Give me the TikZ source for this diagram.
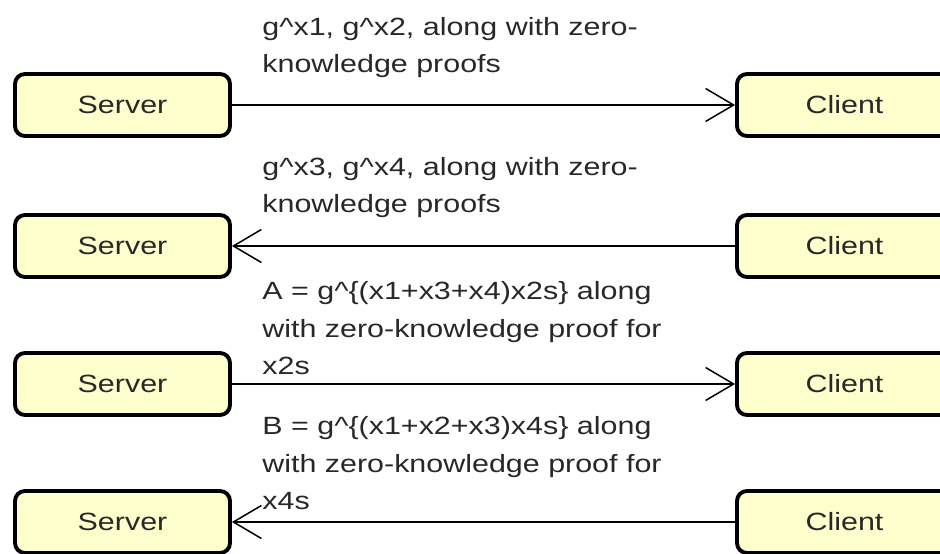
\documentclass[tikz,border=0pt]{standalone}
\usepackage{fontspec}
\setmainfont{Liberation Sans}[FakeStretch=1.22]
\usetikzlibrary{arrows.meta}
\definecolor{boxfill}{RGB}{255,255,206}
\definecolor{inkgray}{RGB}{40,40,40}
\tikzset{
  party/.style = {draw, line width=2.2pt, rounded corners=0.2cm, fill=boxfill,
    minimum width=4.3cm, minimum height=1.24cm, text=inkgray},
  msg/.style = {line width=0.85pt, -{Straight Barb[length=5.6mm,width=6.6mm,line width=0.85pt]}},
  lab/.style = {anchor=base west, align=left, inner sep=0pt, text=inkgray}
}
\begin{document}
\begin{tikzpicture}[font=\fontsize{14.2}{21.6}\selectfont]
			\useasboundingbox (0,0) rectangle (18.8,11.06);
			\node[party] (srv1) at (2.45,8.96) {Server};
			\node[party] (cli1) at (16.89,8.96) {Client};
			\node[party] (srv2) at (2.45,6.14) {Server};
			\node[party] (cli2) at (16.89,6.14) {Client};
			\node[party] (srv3) at (2.45,3.38) {Server};
			\node[party] (cli3) at (16.89,3.38) {Client};
			\node[party] (srv4) at (2.45,0.62) {Server};
			\node[party] (cli4) at (16.89,0.62) {Client};
			
			% Messages
			\draw[msg] (srv1) -- (cli1);
			\draw[msg] (cli2) -- (srv2);
			\draw[msg] (srv3) -- (cli3);
			\draw[msg] (cli4) -- (srv4);
			
			% Labels (anchored on their last line)
			\node[lab] (lab1) at (5.24,9.6) {g\^{}x1, g\^{}x2, along with zero-\\knowledge proofs};
			\node[lab] (lab2) at (5.24,6.8) {g\^{}x3, g\^{}x4, along with zero-\\knowledge proofs};
			\node[lab] (lab3) at (5.24,3.56) {A = g\^{}\{(x1+x3+x4)x2s\} along\\with zero-knowledge proof for\\x2s};
			\node[lab] (lab4) at (5.24,0.86) {B = g\^{}\{(x1+x2+x3)x4s\} along\\with zero-knowledge proof for\\x4s};
		\end{tikzpicture}
\end{document}
